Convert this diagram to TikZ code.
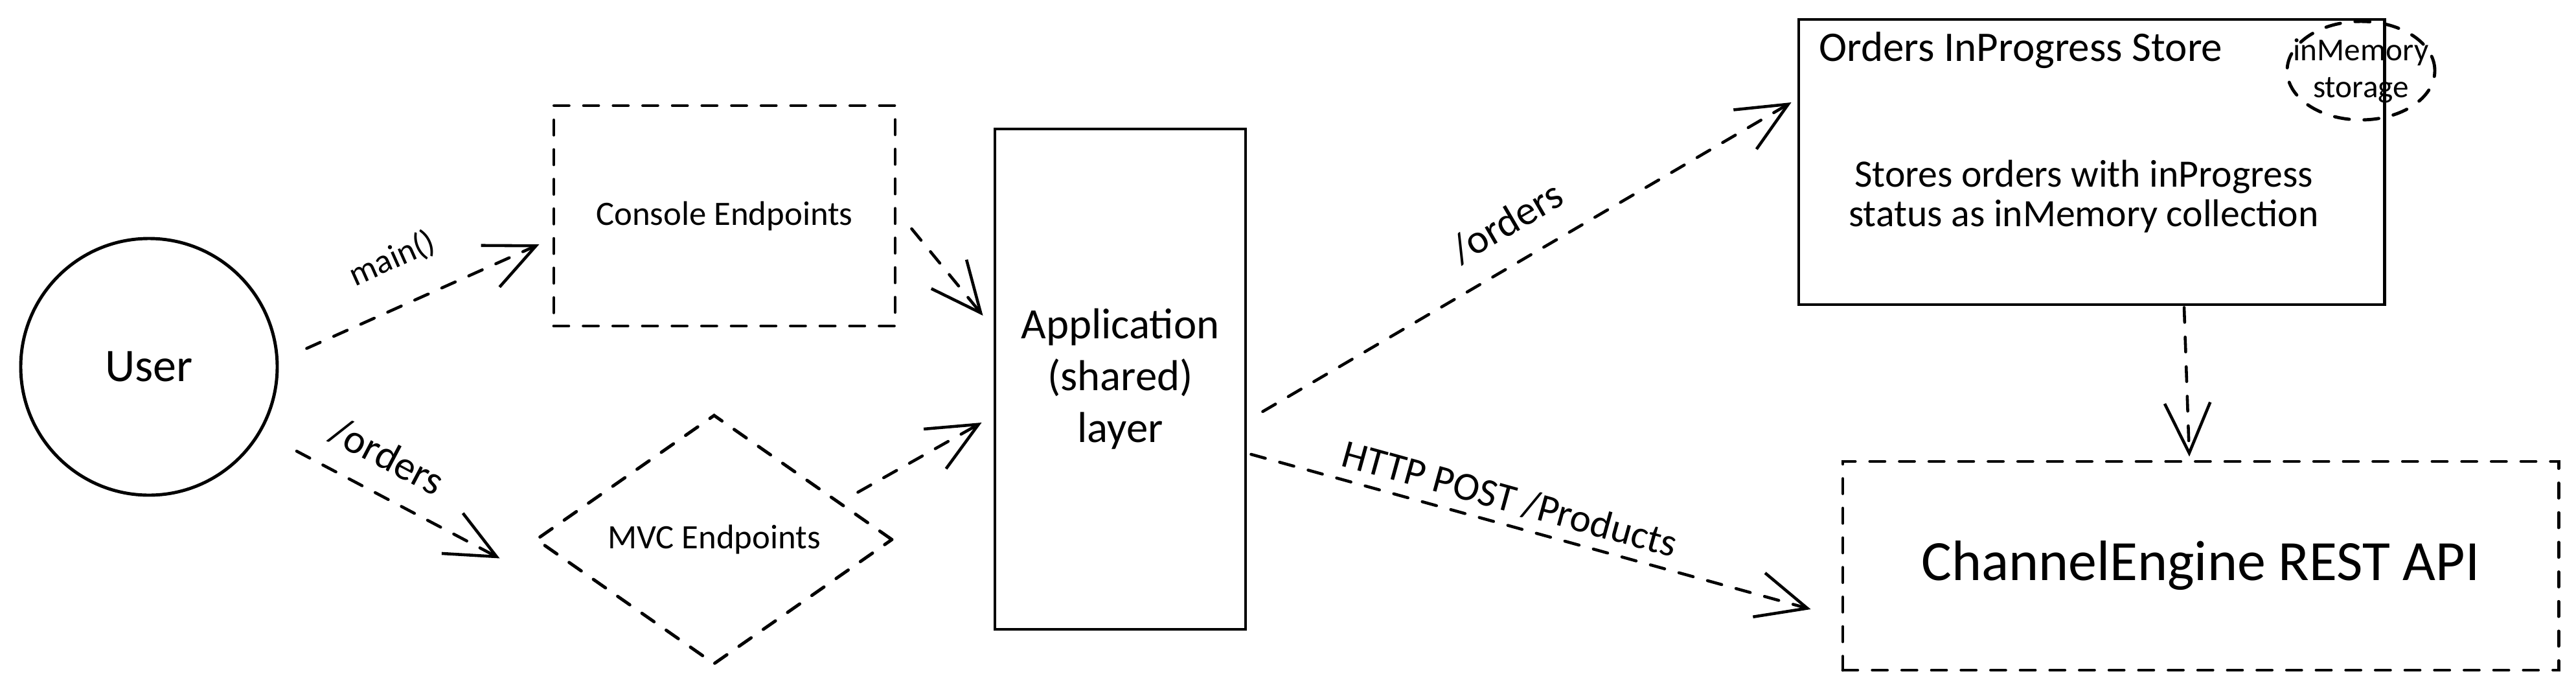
\documentclass[tikz,border=0pt]{standalone}
\usepackage{fontspec}
\setmainfont{Carlito}
\usetikzlibrary{shapes.geometric,arrows.meta}

\begin{document}
\begin{tikzpicture}[
    sketch/.style={draw=black, line width=1.4pt, align=center},
    dashbox/.style={sketch, line cap=round, dash pattern=on 6.5pt off 6.5pt},
    flow/.style={line width=1.3pt, line cap=round, dash pattern=on 6.5pt off 6.5pt,
        -{Straight Barb[length=22pt,width=20pt,line width=1.3pt]}},
    lbl/.style={font=\fontsize{18}{21}\selectfont, sloped},
]

    % Fix the canvas
    \useasboundingbox (0,0) rectangle (39.77,-10.59);

    % Draw the user
    \node[sketch, circle, minimum size=3.96cm, font=\fontsize{20.5}{24}\selectfont] (user) at (2.30,-5.66) {User};

    % Draw the two entry points (console and MVC)
    \node[dashbox, minimum width=5.27cm, minimum height=3.40cm, font=\fontsize{15}{18}\selectfont] (console) at (11.185,-3.33) {Console Endpoints};
    \node[dashbox, diamond, inner sep=0pt, minimum width=5.51cm, minimum height=3.85cm, font=\fontsize{15}{18}\selectfont] (mvc) at (11.025,-8.325) {MVC Endpoints};

    % Draw the shared application layer
    \node[sketch, minimum width=3.87cm, minimum height=7.72cm, font=\fontsize{19}{22.8}\selectfont] (app) at (17.295,-5.85) {Application\\(shared)\\layer};

    % Draw the in-progress store with its notes
    \node[sketch, minimum width=9.04cm, minimum height=4.40cm] (store) at (32.29,-2.50) {};
    \node[anchor=base west, inner sep=0pt, font=\fontsize{18.5}{22}\selectfont] (storetitle) at ([shift={(0.33,-0.67)}]store.north west) {Orders InProgress Store};
    \node[align=center, font=\fontsize{17}{17.4}\selectfont] (storetxt) at (32.17,-3.03) {Stores orders with inProgress\\status as inMemory collection};
    \node[dashbox, ellipse, minimum width=2.28cm, minimum height=1.52cm] (mem) at (36.45,-1.09) {};
    \node[align=center, font=\fontsize{14}{16.2}\selectfont] (memtxt) at (mem) {inMemory\\storage};

    % Draw the external API
    \node[dashbox, minimum width=11.05cm, minimum height=3.22cm, font=\fontsize{25}{30}\selectfont] (api) at (33.975,-8.73) {ChannelEngine REST API};

    % Draw the calls from the user
    \draw[flow] ([shift={(0.445,0.04)}]user.7) -- ([shift={(-0.2,-0.44)}]console.west)
        node[lbl, pos=0.45, above=10pt, font=\fontsize{15}{18}\selectfont] (mainlbl) {main()};
    \draw[flow] ([shift={(0.51,-0.36)}]user.-28) -- ([shift={(-0.53,-0.29)}]mvc.west)
        node[lbl, pos=0.36, above=6pt] (ordlbl) {/orders};

    % Draw the calls into the application layer
    \draw[flow] ([shift={(0.23,-0.20)}]console.east) -- ([shift={(-0.16,0.98)}]app.west);
    \draw[flow] ([shift={(-0.56,0.73)}]mvc.east) -- ([shift={(-0.18,-0.67)}]app.west);

    % Draw the calls out of the application layer
    \draw[flow] ([shift={(0.24,-0.50)}]app.east) -- ([shift={(-0.09,0.92)}]store.west)
        node[lbl, pos=0.5, above=7pt] (storelbl) {/orders};
    \draw[flow] ([shift={(0.06,-1.16)}]app.east) -- ([shift={(-0.47,-0.67)}]api.west)
        node[lbl, pos=0.45, above=1pt, font=\fontsize{17.5}{21}\selectfont] (postlbl) {HTTP POST /Products};

    % Draw the store feeding the API
    \draw[flow] ([shift={(1.43,-0.02)}]store.south) -- ([shift={(-0.175,0.05)}]api.north);

\end{tikzpicture}
\end{document}
